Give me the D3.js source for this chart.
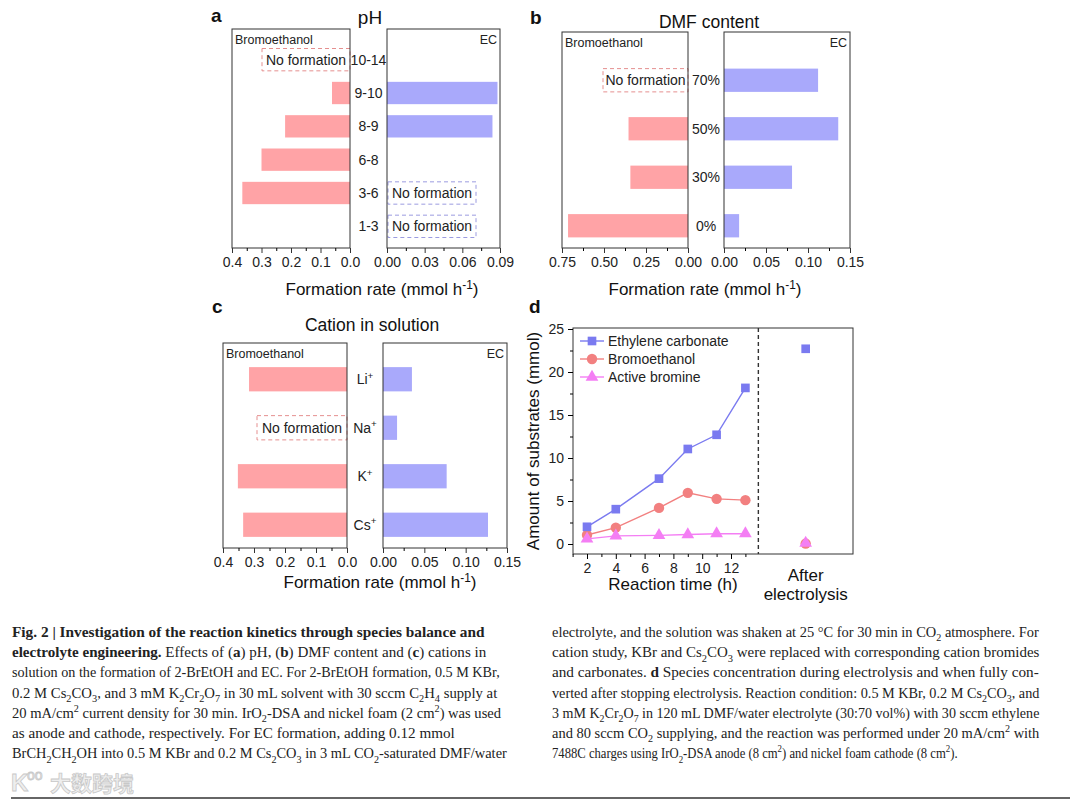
<!DOCTYPE html>
<html>
<head>
<meta charset="utf-8">
<script src="https://cdn.jsdelivr.net/npm/d3@7"></script>
<style>
  body { margin: 0; background: #fff; }
  svg { display: block; }
</style>
</head>
<body>
<svg id="fig" width="1080" height="807"></svg>
<script>
// ---- data ----
const phCats = ["10-14", "9-10", "8-9", "6-8", "3-6", "1-3"];
const phBromo = [null, 0.061, 0.22, 0.30, 0.365, 0];
const phEC = [0, 0.088, 0.084, 0, null, null];
const phBromoTicks = [0.4, 0.3, 0.2, 0.1, 0.0];
const phECTicks = [0, 0.03, 0.06, 0.09];

const dmfCats = ["70%", "50%", "30%", "0%"];
const dmfBromo = [null, 0.354, 0.343, 0.714];
const dmfEC = [0.112, 0.136, 0.081, 0.018];
const dmfBromoTicks = [0.75, 0.5, 0.25, 0];
const dmfECTicks = [0, 0.05, 0.10, 0.15];

const cationCats = ["Li", "Na", "K", "Cs"];
const cationBromo = [0.316, null, 0.352, 0.335];
const cationEC = [0.035, 0.017, 0.077, 0.127];
const cationBromoTicks = [0.4, 0.3, 0.2, 0.1, 0];
const cationECTicks = [0, 0.05, 0.10, 0.15];

const timeH = [2, 4, 7, 9, 11, 13];
const ecAmount = [2.0, 4.05, 7.6, 11.05, 12.7, 18.15];
const bromoAmount = [1.05, 1.9, 4.2, 5.95, 5.25, 5.1];
const activeBrAmount = [0.6, 0.95, 1.0, 1.1, 1.2, 1.2];
const afterLabel = "After electrolysis";
const afterEC = 22.7;
const afterBromo = 0.05;
const afterActive = 0.1;
const timeTicks = [2, 4, 6, 8, 10, 12];
const amountTicks = [0, 5, 10, 15, 20, 25];

const captionLeft = [
  "**Fig. 2 | Investigation of the reaction kinetics through species balance and**",
  "**electrolyte engineering.** Effects of (**a**) pH, (**b**) DMF content and (**c**) cations in",
  "solution on the formation of 2-BrEtOH and EC. For 2-BrEtOH formation, 0.5 M KBr,",
  "0.2 M Cs_{2}CO_{3}, and 3 mM K_{2}Cr_{2}O_{7} in 30 mL solvent with 30 sccm C_{2}H_{4} supply at",
  "20 mA/cm^{2} current density for 30 min. IrO_{2}-DSA and nickel foam (2 cm^{2}) was used",
  "as anode and cathode, respectively. For EC formation, adding 0.12 mmol",
  "BrCH_{2}CH_{2}OH into 0.5 M KBr and 0.2 M Cs_{2}CO_{3} in 3 mL CO_{2}-saturated DMF/water"
];
const captionRight = [
  "electrolyte, and the solution was shaken at 25 °C for 30 min in CO_{2} atmosphere. For",
  "cation study, KBr and Cs_{2}CO_{3} were replaced with corresponding cation bromides",
  "and carbonates. **d** Species concentration during electrolysis and when fully con-",
  "verted after stopping electrolysis. Reaction condition: 0.5 M KBr, 0.2 M Cs_{2}CO_{3}, and",
  "3 mM K_{2}Cr_{2}O_{7} in 120 mL DMF/water electrolyte (30:70 vol%) with 30 sccm ethylene",
  "and 80 sccm CO_{2} supplying, and the reaction was performed under 20 mA/cm^{2} with",
  "7488C charges using IrO_{2}-DSA anode (8 cm^{2}) and nickel foam cathode (8 cm^{2})."
];

// ---- styles ----
const SANS = "Liberation Sans, Arial, sans-serif";
const RED = "#ffa3a6", BLUE = "#a9a9fb";
const EC_C = "#7a7af0", BR_C = "#f28080", AB_C = "#f47ef4";

const svg = d3.select("#fig");
svg.append("rect").attr("width", 1080).attr("height", 807).attr("fill", "#fff");

// text with **bold**, _{sub} and ^{sup}
function rich(text, str, fs) {
  const parts = str.split(/(\*\*[^*]+\*\*|_\{[^}]+\}|\^\{[^}]+\})/g).filter(p => p !== "");
  let shift = 0;
  parts.forEach(p => {
    let t = text.append("tspan");
    let target = 0, content = p;
    if (p.startsWith("**")) {
      content = p.slice(2, -2);
      t.attr("font-weight", "bold");
    } else if (p.startsWith("_{")) {
      content = p.slice(2, -1);
      target = fs * 0.28;
      t.attr("font-size", fs * 0.7);
    } else if (p.startsWith("^{")) {
      content = p.slice(2, -1);
      target = -fs * 0.38;
      t.attr("font-size", fs * 0.7);
    }
    if (target !== shift) { t.attr("dy", target - shift); shift = target; }
    t.text(content);
  });
  return text;
}

function bottomTicks(g, scale, major, fmt, minor, y) {
  g.append("g")
    .attr("transform", `translate(0,${y})`)
    .call(d3.axisBottom(scale).tickValues(minor).tickSize(3).tickFormat(""))
    .call(a => a.select(".domain").remove());
  const ax = g.append("g")
    .attr("transform", `translate(0,${y})`)
    .call(d3.axisBottom(scale).tickValues(major).tickSize(5).tickPadding(4).tickFormat(fmt));
  ax.select(".domain").remove();
  ax.selectAll("text").attr("font-size", 14).attr("font-family", SANS).attr("fill", "#222");
  ax.selectAll("line").attr("stroke", "#333");
}

function barPanel(p) {
  const g = svg.append("g");
  const y = d3.scaleBand().domain(p.cats).range(p.band).paddingInner(p.padIn).paddingOuter(p.padIn / 2);
  const xL = d3.scaleLinear().domain([0, p.lMax]).range([p.lx1, p.lx0]);
  const xR = d3.scaleLinear().domain([0, p.rMax]).range([p.rx0, p.rx1]);

  // bars
  g.selectAll(".bl").data(p.cats.map((c, i) => ({ c, v: p.left[i] })).filter(d => d.v))
    .join("rect")
    .attr("x", d => xL(d.v)).attr("y", d => y(d.c))
    .attr("width", d => xL(0) - xL(d.v)).attr("height", y.bandwidth())
    .attr("fill", RED);
  g.selectAll(".br").data(p.cats.map((c, i) => ({ c, v: p.right[i] })).filter(d => d.v))
    .join("rect")
    .attr("x", xR(0)).attr("y", d => y(d.c))
    .attr("width", d => xR(d.v) - xR(0)).attr("height", y.bandwidth())
    .attr("fill", BLUE);

  // "No formation" boxes where the value is null
  const nf = [];
  p.cats.forEach((c, i) => {
    if (p.left[i] === null) nf.push({ c, x0: p.lx1 - p.nfW, x1: p.lx1, col: "#e58f8f" });
    if (p.right[i] === null) nf.push({ c, x0: p.rx0 + 1, x1: p.rx0 + 1 + p.nfW, col: "#9b9be0" });
  });
  nf.forEach(d => {
    g.append("rect").attr("x", d.x0).attr("y", y(d.c)).attr("width", d.x1 - d.x0)
      .attr("height", y.bandwidth()).attr("fill", "none").attr("stroke", d.col)
      .attr("stroke-width", 1).attr("stroke-dasharray", "4,3");
    g.append("text").attr("x", (d.x0 + d.x1) / 2).attr("y", y(d.c) + y.bandwidth() / 2 + 5)
      .attr("text-anchor", "middle").attr("font-family", SANS).attr("font-size", 14)
      .attr("fill", "#222").text("No formation");
  });

  // frames
  [[p.lx0, p.lx1], [p.rx0, p.rx1]].forEach(([a, b]) => {
    g.append("rect").attr("x", a).attr("y", p.y0).attr("width", b - a).attr("height", p.y1 - p.y0)
      .attr("fill", "none").attr("stroke", "#333").attr("stroke-width", 1);
  });
  g.append("text").attr("x", p.lx0 + 3).attr("y", p.y0 + 15).attr("font-family", SANS)
    .attr("font-size", 12.5).attr("fill", "#222").text("Bromoethanol");
  g.append("text").attr("x", p.rx1 - 3).attr("y", p.y0 + 15).attr("text-anchor", "end")
    .attr("font-family", SANS).attr("font-size", 12.5).attr("fill", "#222").text("EC");

  // category labels between the two boxes
  p.cats.forEach(c => {
    const t = g.append("text").attr("x", (p.lx1 + p.rx0) / 2)
      .attr("y", y(c) + y.bandwidth() / 2 + 5).attr("text-anchor", "middle")
      .attr("font-family", SANS).attr("font-size", 14).attr("fill", "#222");
    if (p.sup) rich(t, c + "^{+}", 14); else t.text(c);
  });

  // axes
  const lStep = p.lTicks[0] - p.lTicks[1], rStep = p.rTicks[1] - p.rTicks[0];
  const lMinor = d3.range(lStep / 2, p.lMax, lStep);
  const rMinor = d3.range(rStep / 2, p.rMax, rStep);
  bottomTicks(g, xL, p.lTicks, d3.format(p.lFmt), lMinor, p.y1);
  bottomTicks(g, xR, p.rTicks, d3.format(p.rFmt), rMinor, p.y1);

  // titles
  g.append("text").attr("x", p.titleX).attr("y", p.titleY).attr("text-anchor", "middle")
    .attr("font-family", SANS).attr("font-size", p.titleFs).attr("fill", "#111").text(p.title);
  rich(g.append("text").attr("x", p.xlabX).attr("y", p.xlabY).attr("text-anchor", "middle")
    .attr("font-family", SANS).attr("font-size", 17).attr("fill", "#111"),
    "Formation rate (mmol h^{-1})", 17);
  g.append("text").attr("x", p.letterX).attr("y", p.letterY).attr("font-family", SANS)
    .attr("font-weight", "bold").attr("font-size", 19).attr("fill", "#111").text(p.letter);
}

barPanel({
  cats: phCats, left: phBromo, right: phEC, lMax: 0.4, rMax: 0.09,
  lTicks: phBromoTicks, rTicks: phECTicks, lFmt: ".1f", rFmt: ".2f",
  lx0: 232, lx1: 350, rx0: 387, rx1: 500, y0: 29, y1: 248,
  band: [43, 243], padIn: 0.33, nfW: 88,
  title: "pH", titleX: 370, titleY: 24, titleFs: 19,
  xlabX: 382, xlabY: 295, letter: "a", letterX: 211, letterY: 22
});

barPanel({
  cats: dmfCats, left: dmfBromo, right: dmfEC, lMax: 0.75, rMax: 0.15,
  lTicks: dmfBromoTicks, rTicks: dmfECTicks, lFmt: ".2f", rFmt: ".2f",
  lx0: 562, lx1: 688, rx0: 724, rx1: 850, y0: 32, y1: 248,
  band: [56, 250], padIn: 0.52, nfW: 85,
  title: "DMF content", titleX: 709, titleY: 28, titleFs: 17.5,
  xlabX: 705, xlabY: 295, letter: "b", letterX: 530, letterY: 24
});

barPanel({
  cats: cationCats, left: cationBromo, right: cationEC, lMax: 0.4, rMax: 0.15, sup: true,
  lTicks: cationBromoTicks, rTicks: cationECTicks, lFmt: ".1f", rFmt: ".2f",
  lx0: 223, lx1: 347, rx0: 383, rx1: 507, y0: 343, y1: 548,
  band: [355, 549], padIn: 0.5, nfW: 90,
  title: "Cation in solution", titleX: 372, titleY: 331, titleFs: 17.5,
  xlabX: 380, xlabY: 588, letter: "c", letterX: 212, letterY: 313
});

// ---- panel d ----
{
  const g = svg.append("g");
  const fx0 = 573, fx1 = 853, fy0 = 328, fy1 = 554;
  const x = d3.scaleLinear().domain([2, 12]).range([587, 731]);
  const xa = d3.scalePoint().domain([afterLabel]).range([x(13.9), fx1]).padding(0.5);
  const y = d3.scaleLinear().domain([0, 25]).range([544, 329]);

  // frame and separator
  g.append("rect").attr("x", fx0).attr("y", fy0).attr("width", fx1 - fx0).attr("height", fy1 - fy0)
    .attr("fill", "none").attr("stroke", "#333");
  g.append("line").attr("x1", x(13.9)).attr("x2", x(13.9)).attr("y1", fy0).attr("y2", fy1)
    .attr("stroke", "#333").attr("stroke-width", 1.4).attr("stroke-dasharray", "4,3");

  // axes
  const xMinor = d3.range(1, 14).filter(v => v % 2 === 1);
  g.append("g").attr("transform", `translate(0,${fy1})`)
    .call(d3.axisBottom(x).tickValues(xMinor).tickSize(3).tickFormat(""))
    .call(a => a.select(".domain").remove());
  const ax = g.append("g").attr("transform", `translate(0,${fy1})`)
    .call(d3.axisBottom(x).tickValues(timeTicks).tickSize(5).tickPadding(4));
  ax.select(".domain").remove();
  ax.selectAll("text").attr("font-size", 14).attr("font-family", SANS).attr("fill", "#222");

  g.append("g").attr("transform", `translate(${fx0},0)`)
    .call(d3.axisLeft(y).tickValues(amountTicks.map(v => v + 2.5).filter(v => v < 25)).tickSize(3).tickFormat(""))
    .call(a => a.select(".domain").remove());
  const ay = g.append("g").attr("transform", `translate(${fx0},0)`)
    .call(d3.axisLeft(y).tickValues(amountTicks).tickSize(5).tickPadding(4));
  ay.select(".domain").remove();
  ay.selectAll("text").attr("font-size", 14).attr("font-family", SANS).attr("fill", "#222");

  g.append("text").attr("transform", `translate(539,${(fy0 + fy1) / 2}) rotate(-90)`)
    .attr("text-anchor", "middle").attr("font-family", SANS).attr("font-size", 17)
    .attr("fill", "#111").text("Amount of substrates (mmol)");
  g.append("text").attr("x", 673).attr("y", 590).attr("text-anchor", "middle")
    .attr("font-family", SANS).attr("font-size", 17).attr("fill", "#111").text("Reaction time (h)");
  afterLabel.split(" ").forEach((w, i) => {
    g.append("text").attr("x", xa(afterLabel)).attr("y", 581 + i * 19).attr("text-anchor", "middle")
      .attr("font-family", SANS).attr("font-size", 17).attr("fill", "#111").text(w);
  });

  const tri = d3.symbol().type(d3.symbolTriangle).size(70);
  const sq = d3.symbol().type(d3.symbolSquare).size(75);
  const circ = d3.symbol().type(d3.symbolCircle).size(85);
  const series = [
    { name: "Ethylene carbonate", vals: ecAmount, after: afterEC, col: EC_C, sym: sq },
    { name: "Bromoethanol", vals: bromoAmount, after: afterBromo, col: BR_C, sym: circ },
    { name: "Active bromine", vals: activeBrAmount, after: afterActive, col: AB_C, sym: tri }
  ];
  // draw order: bromoethanol, active bromine, then EC on top
  [series[1], series[2], series[0]].forEach(s => {
    const pts = timeH.map((t, i) => [x(t), y(s.vals[i])]);
    g.append("path").attr("d", d3.line()(pts)).attr("fill", "none")
      .attr("stroke", s.col).attr("stroke-width", 1.4);
    g.selectAll(null).data(pts).join("path")
      .attr("transform", d => `translate(${d[0]},${d[1]})`).attr("d", s.sym()).attr("fill", s.col);
    g.append("path").attr("transform", `translate(${xa(afterLabel)},${y(s.after)})`)
      .attr("d", s.sym()).attr("fill", s.col);
  });

  // legend
  series.forEach((s, i) => {
    const ly = 341 + i * 18;
    g.append("line").attr("x1", 580).attr("x2", 604).attr("y1", ly).attr("y2", ly)
      .attr("stroke", s.col).attr("stroke-width", 1.4);
    g.append("path").attr("transform", `translate(592,${ly})`).attr("d", s.sym()).attr("fill", s.col);
    g.append("text").attr("x", 608).attr("y", ly + 5).attr("font-family", SANS)
      .attr("font-size", 14).attr("fill", "#222").text(s.name);
  });

  g.append("text").attr("x", 529).attr("y", 313).attr("font-family", SANS)
    .attr("font-weight", "bold").attr("font-size", 19).attr("fill", "#111").text("d");
}

// ---- caption ----
// each line is stretched horizontally to the width it has in the figure
const SERIF = "Liberation Serif, Times New Roman, serif";
const leftEnds = [485, 487, 500, 498, 502, 455, 508];
const rightEnds = [1040, 1040, 1039, 1040, 1040, 1040, 958];
function caption(lines, x0, ends) {
  lines.forEach((ln, i) => {
    const t = svg.append("text").attr("x", x0).attr("y", 637 + i * 20.2)
      .attr("font-family", SERIF).attr("font-size", 15.5).attr("fill", "#222");
    rich(t, ln, 15.5);
    const w = t.node().getBBox().width;
    const k = (ends[i] - x0) / w;
    t.attr("transform", `translate(${x0},0) scale(${k},1) translate(${-x0},0)`);
  });
}
caption(captionLeft, 12, leftEnds);
caption(captionRight, 552, rightEnds);

// watermark and bottom rule
svg.append("text").attr("x", 11).attr("y", 791).attr("font-family", SANS).attr("font-size", 24)
  .attr("font-weight", "bold").attr("fill", "#eee").attr("stroke", "#c8c8c8").attr("stroke-width", 0.8).text("K");
svg.append("text").attr("x", 27).attr("y", 780).attr("font-family", SANS).attr("font-size", 14)
  .attr("fill", "#eee").attr("stroke", "#c8c8c8").attr("stroke-width", 0.8).text("oo");
svg.append("text").attr("x", 50).attr("y", 791).attr("font-family", "Noto Sans CJK SC")
  .attr("font-size", 21).attr("font-weight", "bold").attr("fill", "#eee")
  .attr("stroke", "#c8c8c8").attr("stroke-width", 0.8).text("大数跨境");
svg.append("line").attr("x1", 11).attr("x2", 1070).attr("y1", 798).attr("y2", 798)
  .attr("stroke", "#333").attr("stroke-width", 1.6);
</script>
</body>
</html>
